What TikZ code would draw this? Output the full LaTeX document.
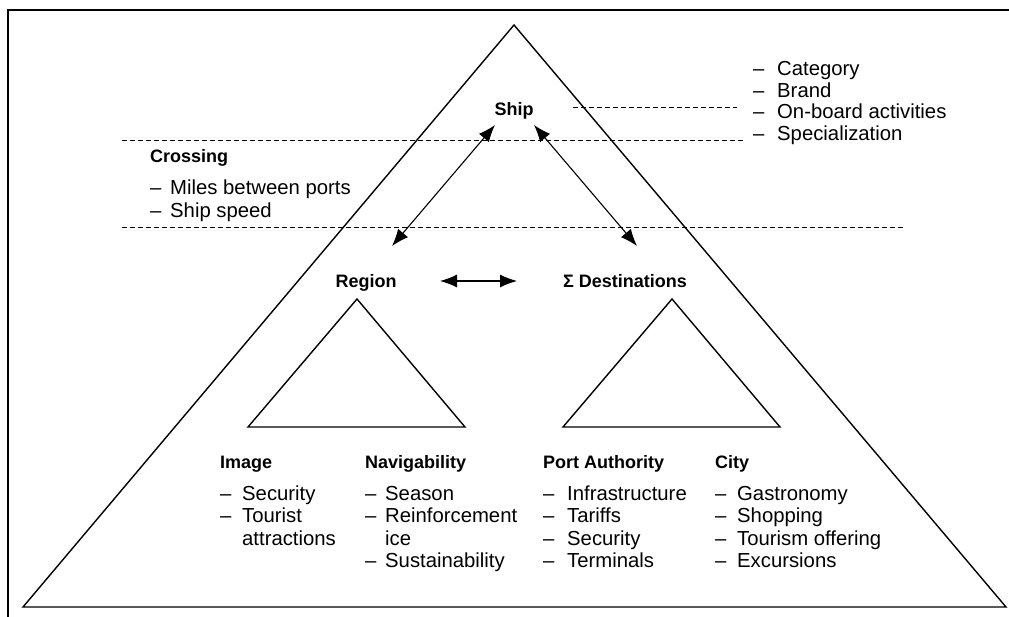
\documentclass[tikz,border=0pt]{standalone}
\usepackage{fontspec}
\setmainfont{Liberation Sans}
\usetikzlibrary{arrows.meta}
\tikzset{
  tri/.style={line width=1.4pt, line join=miter},
  frame/.style={line width=1.6pt},
  sep/.style={line width=1pt, dash pattern=on 5pt off 3pt},
  arr/.style={line width=1.1pt, {Latex[length=17pt,width=13pt]}-{Latex[length=17pt,width=13pt]}},
  head/.style={anchor=base west, inner sep=0pt, font=\fontsize{18}{22}\selectfont\bfseries},
  ctr/.style={anchor=base, inner sep=0pt, font=\fontsize{18}{22}\selectfont\bfseries},
  itm/.style={anchor=base west, inner sep=0pt, font=\fontsize{20.3}{23}\selectfont},
}
\newcommand{\dsh}[1]{\makebox[#1][l]{–}}
\begin{document}
\begin{tikzpicture}[x=1pt,y=-1pt]
\useasboundingbox (0,0) rectangle (1009,617);
% frame
\draw[frame] (8,617) -- (8,10) -- (1009,10);
% big triangle
\draw[tri] (23,607) -- (514,25) -- (1006,607) -- cycle;
% small triangles
\draw[tri] (248,427) -- (357,299) -- (465,427) -- cycle;
\draw[tri] (563,427) -- (672,299) -- (780,427) -- cycle;
% dashed separators
\draw[sep] (122,141) -- (743,141);
\draw[sep] (122,228) -- (905,228);
\draw[sep] (573,108) -- (737,108);
% Ship
\node[ctr] (ship) at (514,116) {Ship};
% Ship attributes
\node[itm] (cat) at (753,76) {\dsh{24pt}Category};
\node[itm] (brand) at (753,97.5) {\dsh{24pt}Brand};
\node[itm] (onb) at (753,119) {\dsh{24pt}On-board activities};
\node[itm] (spec) at (753,140.5) {\dsh{24pt}Specialization};
% Crossing
\node[head] (cross) at (150,163) {Crossing};
\node[itm] (miles) at (150,195) {\dsh{20pt}Miles between ports};
\node[itm] (speed) at (150,217.5) {\dsh{20pt}Ship speed};
% Region / Destinations
\node[ctr] (region) at (366,288) {Region};
\node[ctr] (dest) at (625,288) {Σ Destinations};
% arrows
\coordinate (sL) at (495,125);
\coordinate (sR) at (534,125);
\coordinate (rT) at (392,246);
\coordinate (dT) at (637,246);
\coordinate (rE) at (440,281);
\coordinate (dW) at (517,281);
\draw[arr] (sL) -- (rT);
\draw[arr] (sR) -- (dT);
\draw[arr] (rE) -- (dW);
% Image
\node[head] (image) at (220,468) {Image};
\node[itm] (i1) at (220,500) {\dsh{22pt}Security};
\node[itm] (i2) at (220,522.5) {\dsh{22pt}Tourist};
\node[itm] (i3) at (242,545) {attractions};
% Navigability
\node[head] (nav) at (365,468) {Navigability};
\node[itm] (n1) at (365,500) {\dsh{20pt}Season};
\node[itm] (n2) at (365,522.5) {\dsh{20pt}Reinforcement};
\node[itm] (n3) at (385,545) {ice};
\node[itm] (n4) at (365,567.5) {\dsh{20pt}Sustainability};
% Port Authority
\node[head] (port) at (543,468) {Port Authority};
\node[itm] (p1) at (543,500) {\dsh{24pt}Infrastructure};
\node[itm] (p2) at (543,522.5) {\dsh{24pt}Tariffs};
\node[itm] (p3) at (543,545) {\dsh{24pt}Security};
\node[itm] (p4) at (543,567.5) {\dsh{24pt}Terminals};
% City
\node[head] (city) at (715,468) {City};
\node[itm] (c1) at (715,500) {\dsh{22pt}Gastronomy};
\node[itm] (c2) at (715,522.5) {\dsh{22pt}Shopping};
\node[itm] (c3) at (715,545) {\dsh{22pt}Tourism offering};
\node[itm] (c4) at (715,567.5) {\dsh{22pt}Excursions};
\end{tikzpicture}
\end{document}
